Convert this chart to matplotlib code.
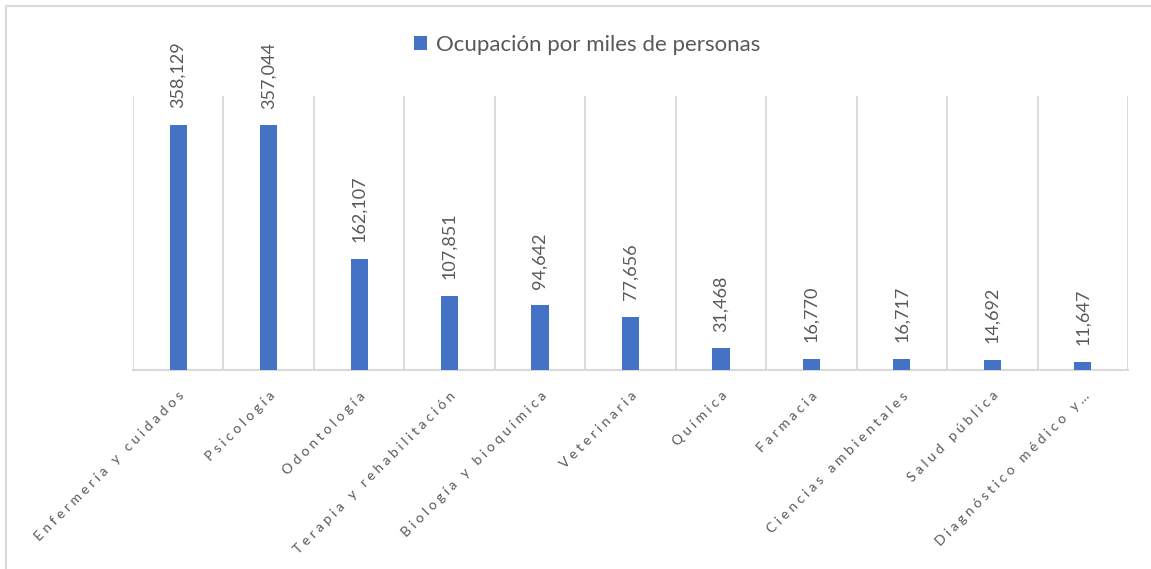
'''
Ocupacion por miles de personas - bar chart
'''

import numpy as np
import matplotlib.pyplot as plt
from matplotlib.lines import Line2D

categorias = ['Enfermería y cuidados', 'Psicología', 'Odontología',
              'Terapia y rehabilitación', 'Biología y bioquímica',
              'Veterinaria', 'Química', 'Farmacia', 'Ciencias ambientales',
              'Salud pública', 'Diagnóstico médico y…']
valores = [358129, 357044, 162107, 107851, 94642, 77656,
           31468, 16770, 16717, 14692, 11647]
serie = 'Ocupación por miles de personas'

azul = '#4472C4'
gris = '#595959'
rejilla = '#D9D9D9'
fuente = ['Lato', 'DejaVu Sans']

plt.rcParams['font.family'] = fuente

fig = plt.figure(figsize=(11.51, 5.69), dpi=100)
ax = fig.add_axes([133 / 1151, 1 - 370 / 569, 995 / 1151, 274 / 569])

x = np.arange(len(categorias))
barras = ax.bar(x, valores, width=0.19, color=azul, label=serie, zorder=3)

ax.set_xlim(-0.5, len(categorias) - 0.5)
ax.set_ylim(0, 400000)
ax.set_yticks([])

# vertical gridlines between categories
ax.set_xticks(np.arange(-0.5, len(categorias), 1), minor=True)
ax.grid(which='minor', axis='x', color=rejilla, lw=1.3)
ax.tick_params(which='both', length=0)
for lado in ['top', 'right', 'left']:
    ax.spines[lado].set_visible(False)
ax.spines['bottom'].set_color(rejilla)
ax.spines['bottom'].set_linewidth(1.5)

# spaced-out category labels
def espaciar(texto):
    return ' '.join(texto)

ax.set_xticks(x)
ax.set_xticklabels([espaciar(c) for c in categorias], rotation=45,
                   ha='right', va='top', rotation_mode='anchor',
                   fontsize=10, color=gris)
ax.tick_params(axis='x', which='major', pad=14)

# data labels
for b, v in zip(barras, valores):
    ax.annotate(f'{v:,}', (b.get_x() + b.get_width() / 2, v),
                xytext=(0, 12), textcoords='offset points',
                rotation=90, ha='center', va='bottom',
                fontsize=13, color=gris)

leg = fig.legend(loc='center', bbox_to_anchor=(587 / 1151, 1 - 45 / 569),
                 frameon=False, fontsize=16, handlelength=0.6,
                 handleheight=0.6, handletextpad=0.4)
for t in leg.get_texts():
    t.set_color(gris)

# chart area border
fig.add_artist(Line2D([6 / 1151, 1], [1 - 6 / 569, 1 - 6 / 569],
                      transform=fig.transFigure, color=rejilla, lw=1.5))
fig.add_artist(Line2D([6 / 1151, 6 / 1151], [0, 1 - 6 / 569],
                      transform=fig.transFigure, color=rejilla, lw=1.5))

fig.savefig('out.png', dpi=100)
